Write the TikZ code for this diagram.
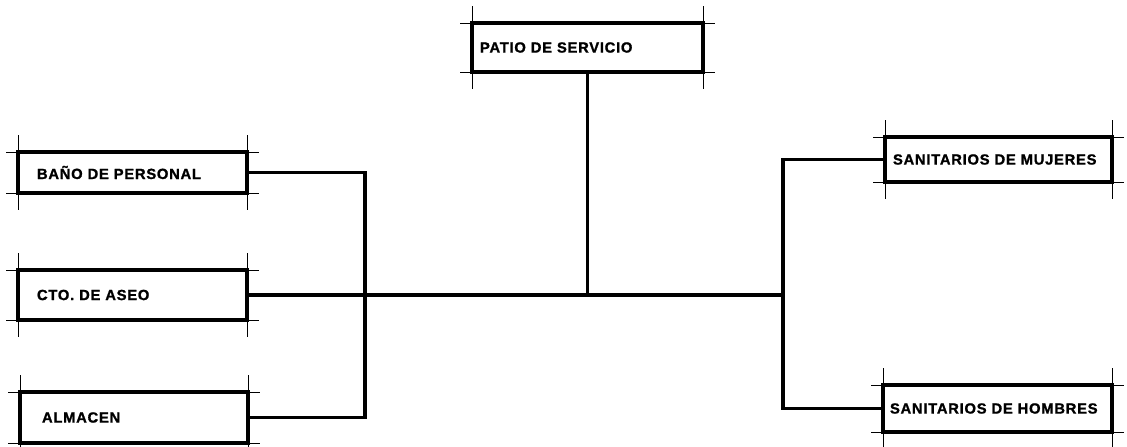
\documentclass[tikz,border=0pt]{standalone}
\usepackage{fontspec}
\newfontfamily\rotulo[LetterSpace=5,WordSpace=3,FakeBold=1.2]{Liberation Sans}
\usetikzlibrary{calc}

\begin{document}
\begin{tikzpicture}[x=0.025cm, y=-0.025cm,
  local/.style={draw, line width=3pt, anchor=north west, outer sep=0pt,
    align=left, font=\rotulo\bfseries\fontsize{10.5}{12}\selectfont},
  marca/.style={line width=0.6pt},
  conector/.style={line width=2.6pt}]
  \useasboundingbox (0,0) rectangle (1127,447);

  % Locales
  \node[local, minimum height=1.225cm, text width=5.375cm, inner xsep=0.2cm] (patio) at (472,23) {PATIO DE SERVICIO};
  \node[local, minimum height=1.025cm, text width=4.775cm, inner xsep=0.475cm] (banio) at (18,152) {BAÑO DE PERSONAL};
  \node[local, minimum height=1.25cm, text width=4.775cm, inner xsep=0.475cm] (aseo) at (18,270) {CTO. DE ASEO};
  \node[local, minimum height=1.275cm, text width=4.6cm, inner xsep=0.55cm] (almacen) at (20,392) {ALMACEN};
  \node[local, minimum height=1.125cm, text width=5.275cm, inner xsep=0.2cm] (mujeres) at (885,137) {SANITARIOS DE MUJERES};
  \node[local, minimum height=1.175cm, text width=5.375cm, inner xsep=0.175cm] (hombres) at (883,385) {SANITARIOS DE HOMBRES};

  % Marcas en las esquinas
  \foreach \b in {patio,banio,aseo,almacen,mujeres,hombres} {
    \draw[marca] ($(\b.north west)+(-12,0)$) -- ($(\b.north east)+(12,0)$);
    \draw[marca] ($(\b.south west)+(-12,0)$) -- ($(\b.south east)+(12,0)$);
    \draw[marca] ($(\b.north west)+(0,-17)$) -- ($(\b.south west)+(0,17)$);
    \draw[marca] ($(\b.north east)+(0,-17)$) -- ($(\b.south east)+(0,17)$);
  }

  % Ejes de circulacion
  \coordinate (busL) at (365,0);
  \coordinate (busR) at (783,0);
  \draw[conector] (banio.east) -| (busL |- aseo.east) |- (almacen.east);
  \draw[conector] (aseo.east) -- (busR |- aseo.east);
  \draw[conector] (mujeres.west) -| (busR |- aseo.east) |- (hombres.west);
  \draw[conector] (patio.south) -- (patio.south |- aseo.east);
\end{tikzpicture}
\end{document}
